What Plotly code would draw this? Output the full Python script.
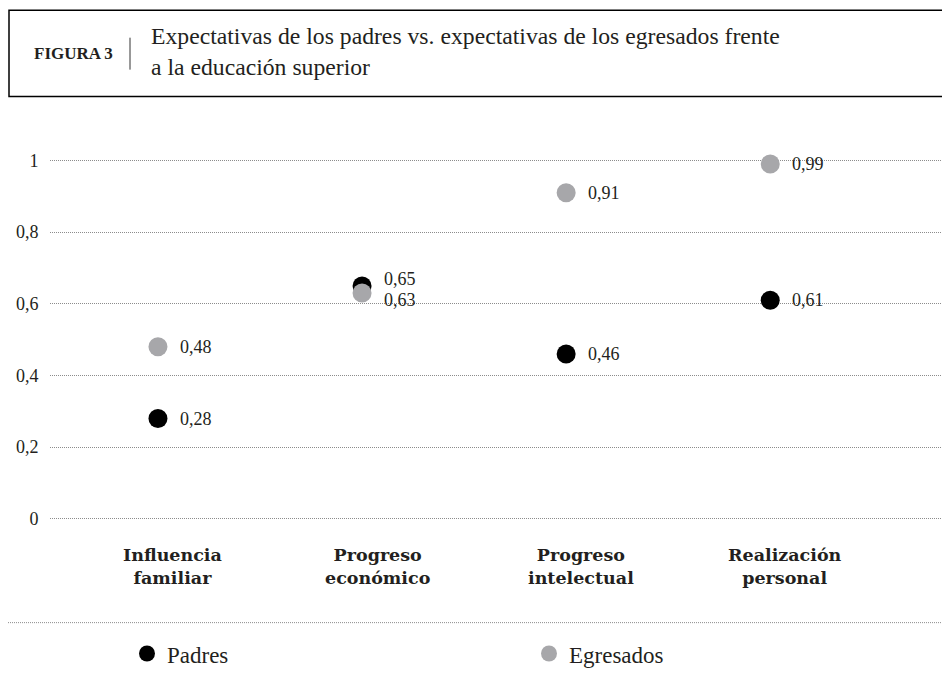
import plotly.graph_objects as go

categories = ["Influencia<br>familiar", "Progreso<br>económico", "Progreso<br>intelectual", "Realización<br>personal"]
padres = [0.28, 0.65, 0.46, 0.61]
egresados = [0.48, 0.63, 0.91, 0.99]
y_ticks = [0, 0.2, 0.4, 0.6, 0.8, 1]
y_tick_labels = ["0", "0,2", "0,4", "0,6", "0,8", "1"]
series_names = ["Padres", "Egresados"]
title_label = "FIGURA 3"
title_text = "Expectativas de los padres vs. expectativas de los egresados frente<br>a la educación superior"

W, H = 950, 686
OFF = 8  # page body margin offset
L, R, T, B = 42, 950, 130.5, 518.2

def px_x(p):
    return ((p - OFF) - L) / (R - L)

def px_y(p):
    return (B - (p - OFF)) / (B - T)

def fmt(v):
    return f"{v:.2f}".replace(".", ",")

SERIF = "Liberation Serif"
TXT = "#231f20"
GRAY = "#a7a7aa"
GRID = "#8c8c8c"

xs = list(range(len(categories)))

fig = go.Figure()
fig.add_trace(go.Scatter(
    x=xs, y=padres, mode="markers", name=series_names[0],
    marker=dict(color="#000000", size=19), cliponaxis=False,
))
fig.add_trace(go.Scatter(
    x=xs, y=egresados, mode="markers", name=series_names[1],
    marker=dict(color=GRAY, size=19), cliponaxis=False,
))

annotations = []
for i in xs:
    a, b = padres[i], egresados[i]
    close = abs(a - b) < 0.05
    for v, other in ((a, b), (b, a)):
        shift = 0
        if close:
            shift = 7 if v > other else -7
        annotations.append(dict(
            x=i, y=v, xref="x", yref="y", text=fmt(v), showarrow=False,
            xanchor="left", yanchor="middle", xshift=20, yshift=shift,
            font=dict(family=SERIF, size=18, color=TXT),
        ))

for i, c in enumerate(categories):
    annotations.append(dict(
        x=i, xref="x", y=px_y(567), yref="paper", text=c, showarrow=False,
        xshift=15, yanchor="middle", xanchor="center",
        font=dict(family="DejaVu Serif", size=17.5, color=TXT, weight="bold"),
    ))
annotations.append(dict(
    x=px_x(32), y=px_y(53), xref="paper", yref="paper", text="<b>" + title_label + "</b>",
    showarrow=False, xanchor="left", yanchor="middle",
    font=dict(family=SERIF, size=17, color=TXT),
))
annotations.append(dict(
    x=px_x(149), y=px_y(51), xref="paper", yref="paper", text=title_text,
    showarrow=False, xanchor="left", yanchor="middle", align="left",
    font=dict(family=SERIF, size=23.7, color=TXT),
))

shapes = [
    dict(type="rect", xref="paper", yref="paper", x0=px_x(9), x1=px_x(970),
         y0=px_y(96), y1=px_y(9.5), line=dict(color="#000000", width=1.5)),
    dict(type="line", xref="paper", yref="paper", x0=px_x(130), x1=px_x(130),
         y0=px_y(69), y1=px_y(37), line=dict(color="#333333", width=1)),
    dict(type="line", xref="paper", yref="paper", x0=px_x(0), x1=px_x(970),
         y0=px_y(623), y1=px_y(623), line=dict(color=GRID, width=1, dash="1px,1px")),
]

fig.update_layout(
    width=W, height=H,
    margin=dict(l=L, r=W - R, t=T, b=H - B, pad=0, autoexpand=False),
    paper_bgcolor="white", plot_bgcolor="white",
    separators=",.",
    showlegend=True,
    legend=dict(orientation="h", x=px_x(127), y=px_y(654), xanchor="left", yanchor="middle",
                entrywidth=357, entrywidthmode="pixels",
                font=dict(family=SERIF, size=23, color=TXT)),
    xaxis=dict(range=[-0.529, 3.92], showgrid=False, zeroline=False, showticklabels=False,
               showline=False, fixedrange=True),
    yaxis=dict(range=[-0.02, 1.06], tickvals=y_ticks, ticktext=y_tick_labels,
               showgrid=True, gridcolor=GRID, griddash="1px,1px", gridwidth=1,
               zeroline=False, showline=False, ticks="outside", ticklen=7, tickcolor="rgba(0,0,0,0)",
               tickfont=dict(family=SERIF, size=18, color=TXT)),
    annotations=annotations, shapes=shapes,
)

fig.write_html("out.html")
